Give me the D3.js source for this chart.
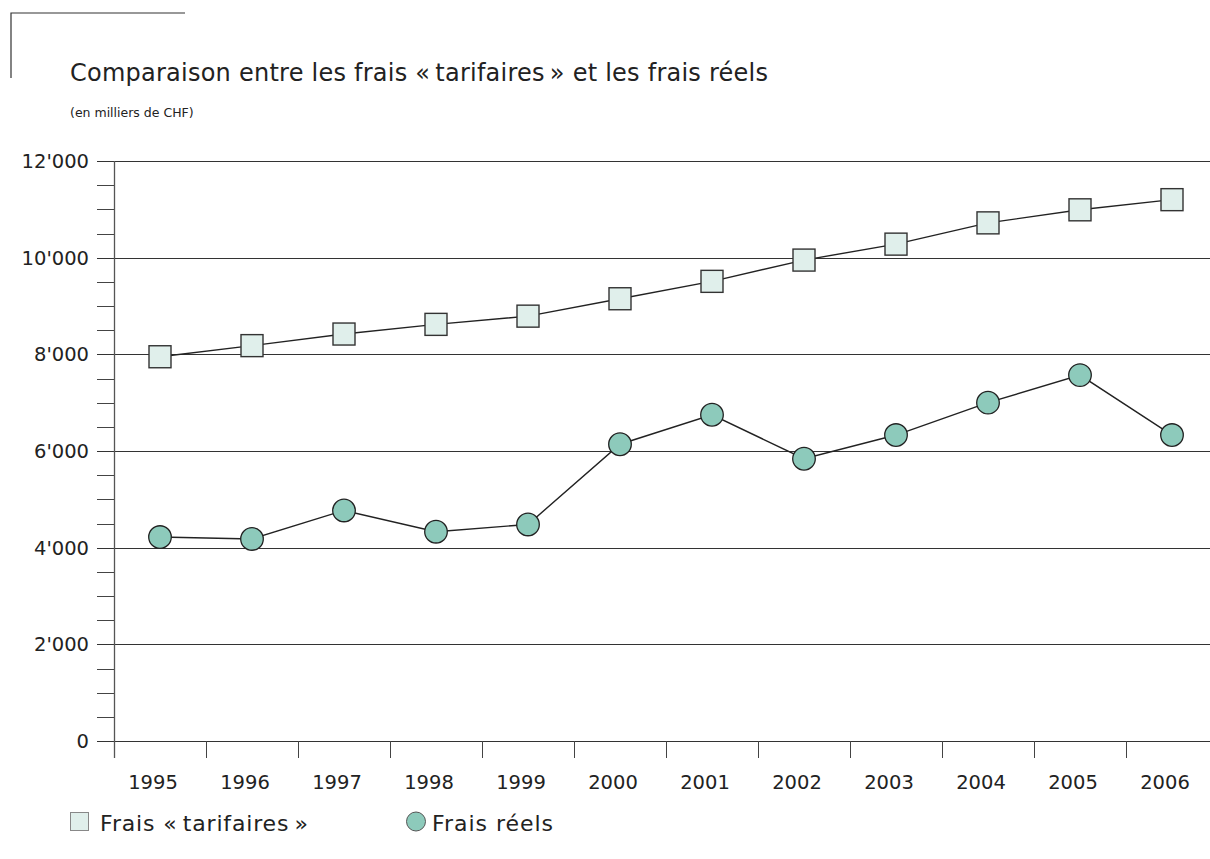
<!DOCTYPE html>
<html>
<head>
<meta charset="utf-8">
<script src="https://cdn.jsdelivr.net/npm/d3@7"></script>
<style>
  html, body { margin: 0; padding: 0; background: #fff; }
  svg { display: block; font-family: "DejaVu Sans", "Liberation Sans", Arial, sans-serif; }
</style>
</head>
<body>
<svg id="chart" width="1210" height="859"></svg>
<script>
// Années et séries (en milliers de CHF)
const years = ["1995","1996","1997","1998","1999","2000","2001","2002","2003","2004","2005","2006"];
const fraisTarifaires = [7950, 8180, 8420, 8620, 8790, 9150, 9510, 9950, 10280, 10720, 10990, 11200];
const fraisReels = [4220, 4180, 4770, 4330, 4480, 6140, 6750, 5840, 6330, 7000, 7570, 6330];
const yTickValues = [0, 2000, 4000, 6000, 8000, 10000, 12000];
const yTickLabels = ["0", "2'000", "4'000", "6'000", "8'000", "10'000", "12'000"];
const titleText = "Comparaison entre les frais \u00AB\u2009tarifaires\u2009\u00BB et les frais réels";
const subtitleText = "(en milliers de CHF)";
const legendLabels = ["Frais \u00AB\u2009tarifaires\u2009\u00BB", "Frais réels"];

const svg = d3.select("#chart");
const plotLeft = 114, plotRight = 1218, plotTop = 161, plotBottom = 741;

const x = d3.scaleBand().domain(years).range([plotLeft, plotRight]).padding(0);
const y = d3.scaleLinear().domain([0, 12000]).range([plotBottom, plotTop]);

// Cadre décoratif en haut à gauche
svg.append("path").attr("d", "M11,78V13H185").attr("fill", "none").attr("stroke", "#333").attr("stroke-width", 1.2);

// Titres
svg.append("text").attr("x", 70).attr("y", 81).attr("font-size", 24).attr("fill", "#222")
  .attr("textLength", 698).attr("lengthAdjust", "spacing").text(titleText);
svg.append("text").attr("x", 70).attr("y", 117).attr("font-size", 12.5).attr("fill", "#222").text(subtitleText);

// Lignes de grille horizontales
svg.append("g").selectAll("line").data(yTickValues).join("line")
  .attr("x1", 97).attr("x2", 1210)
  .attr("y1", d => Math.round(y(d)) + 0.5).attr("y2", d => Math.round(y(d)) + 0.5)
  .attr("stroke", "#333").attr("stroke-width", 1);

// Graduations secondaires
const minor = d3.range(0, 12001, 500).filter(v => v % 2000 !== 0);
svg.append("g").selectAll("line").data(minor).join("line")
  .attr("x1", 97).attr("x2", plotLeft)
  .attr("y1", d => Math.round(y(d)) + 0.5).attr("y2", d => Math.round(y(d)) + 0.5)
  .attr("stroke", "#444").attr("stroke-width", 1);

// Axe vertical
svg.append("line").attr("x1", plotLeft + 0.5).attr("x2", plotLeft + 0.5).attr("y1", plotTop).attr("y2", plotBottom + 17)
  .attr("stroke", "#555").attr("stroke-width", 1.3);

// Étiquettes de l'axe Y
svg.append("g").selectAll("text").data(yTickValues).join("text")
  .attr("x", 89).attr("y", d => y(d) + 7)
  .attr("text-anchor", "end").attr("font-size", 19.5).attr("fill", "#222")
  .text((d, i) => yTickLabels[i]);

// Graduations de l'axe X (séparations entre années)
svg.append("g").selectAll("line").data(years.slice(1)).join("line")
  .attr("x1", d => Math.round(x(d)) + 0.5).attr("x2", d => Math.round(x(d)) + 0.5)
  .attr("y1", plotBottom).attr("y2", plotBottom + 17)
  .attr("stroke", "#444").attr("stroke-width", 1);

// Étiquettes de l'axe X
svg.append("g").selectAll("text").data(years).join("text")
  .attr("x", d => x(d) + x.bandwidth() / 2 - 7).attr("y", 789)
  .attr("text-anchor", "middle").attr("font-size", 19.5).attr("fill", "#222")
  .text(d => d);

const cx = d => x(d) + x.bandwidth() / 2;
const line = d3.line().x((d, i) => cx(years[i])).y(d => y(d));

// Séries : lignes
svg.append("path").datum(fraisTarifaires).attr("d", line)
  .attr("fill", "none").attr("stroke", "#222").attr("stroke-width", 1.4);
svg.append("path").datum(fraisReels).attr("d", line)
  .attr("fill", "none").attr("stroke", "#222").attr("stroke-width", 1.4);

// Marqueurs carrés (frais tarifaires)
const sq = 22;
svg.append("g").selectAll("rect").data(fraisTarifaires).join("rect")
  .attr("x", (d, i) => cx(years[i]) - sq / 2).attr("y", d => y(d) - sq / 2)
  .attr("width", sq).attr("height", sq)
  .attr("fill", "#e0efeb").attr("stroke", "#333").attr("stroke-width", 1.4);

// Marqueurs ronds (frais réels)
svg.append("g").selectAll("circle").data(fraisReels).join("circle")
  .attr("cx", (d, i) => cx(years[i])).attr("cy", d => y(d)).attr("r", 11.3)
  .attr("fill", "#8dcabb").attr("stroke", "#222").attr("stroke-width", 1.3);

// Légende
const lg = svg.append("g");
lg.append("rect").attr("x", 70.5).attr("y", 812.5).attr("width", 18).attr("height", 18)
  .attr("fill", "#e0efeb").attr("stroke", "#888").attr("stroke-width", 1);
lg.append("text").attr("x", 100).attr("y", 831).attr("font-size", 22).attr("fill", "#222")
  .attr("textLength", 208).attr("lengthAdjust", "spacing").text(legendLabels[0]);
lg.append("circle").attr("cx", 416).attr("cy", 821.5).attr("r", 9.5)
  .attr("fill", "#8dcabb").attr("stroke", "#555").attr("stroke-width", 1);
lg.append("text").attr("x", 432).attr("y", 831).attr("font-size", 22).attr("fill", "#222")
  .attr("textLength", 121).attr("lengthAdjust", "spacing").text(legendLabels[1]);
</script>
</body>
</html>
